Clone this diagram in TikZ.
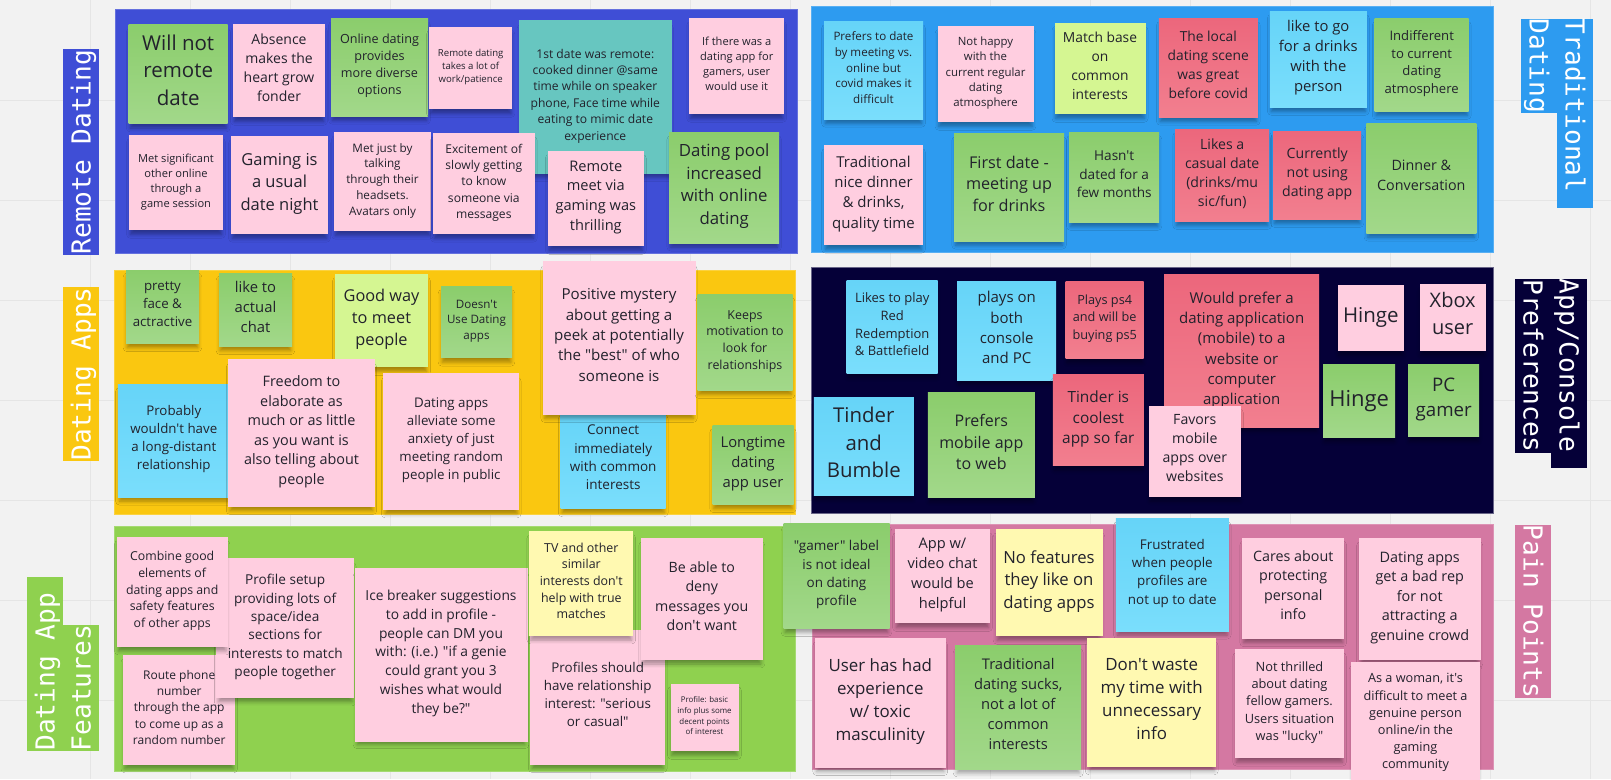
\documentclass[tikz,border=0pt]{standalone}
\usepackage{fontspec}
\setmainfont{Open Sans}[Ligatures=TeXOff]
\newfontfamily\labfont{DejaVu Sans Mono}
\usetikzlibrary{shadows.blur}
\newcommand\nfs[2]{\fontsize{#1pt}{#2pt}\selectfont}
\definecolor{bgc}{RGB}{242,242,242}
\definecolor{gridc}{RGB}{229,229,229}
\definecolor{ctext}{RGB}{34,34,44}
\definecolor{cpink}{RGB}{255,206,224}
\definecolor{cgreenT}{RGB}{139,205,108}
\definecolor{cgreenB}{RGB}{162,216,138}
\definecolor{clblueT}{RGB}{102,212,248}
\definecolor{clblueB}{RGB}{122,222,252}
\definecolor{clime}{RGB}{213,246,146}
\definecolor{cyellow}{RGB}{255,249,177}
\definecolor{credT}{RGB}{236,103,124}
\definecolor{credB}{RGB}{242,127,143}
\definecolor{cteal}{RGB}{103,198,192}
\definecolor{pRemote}{RGB}{63,78,214}
\definecolor{pTrad}{RGB}{45,155,240}
\definecolor{pApps}{RGB}{250,199,16}
\definecolor{pConsole}{RGB}{5,0,56}
\definecolor{pFeat}{RGB}{143,209,79}
\definecolor{pPain}{RGB}{212,120,162}
\tikzset{
  gridline/.style={draw=gridc, line width=1pt},
  panel/.style={line width=1pt},
  sn/.style={inner sep=0pt, align=center, text=ctext,
    execute at begin node={\rule{0pt}{0.9em}},
    execute at end node={\rule[-0.4em]{0pt}{0pt}},
    blur shadow={shadow xshift=0pt, shadow yshift=-6pt, shadow blur radius=4pt, shadow opacity=34, shadow scale=0.97}},
  sz/.style 2 args={minimum width=#1pt, minimum height=#2pt},
  snp/.style={sn, fill=cpink},
  sng/.style={sn, top color=cgreenT, bottom color=cgreenB},
  snb/.style={sn, top color=clblueT, bottom color=clblueB},
  snl/.style={sn, fill=clime},
  sny/.style={sn, fill=cyellow},
  snr/.style={sn, top color=credT, bottom color=credB},
  snt/.style={sn, fill=cteal},
  lab/.style={inner sep=0pt, text=white, font=\labfont\fontsize{26.2pt}{30pt}\selectfont,
    minimum height=36pt, text height=19pt, text depth=0pt},
}
\begin{document}
\begin{tikzpicture}[x=1pt, y=-1pt]
\useasboundingbox (0,0) rectangle (1611,779);
\fill[bgc] (0,0) rectangle (1611,779);
\foreach \gx in {90.5,190.5,...,1590.5} \draw[gridline] (\gx,0) -- (\gx,779);
\foreach \gy in {100,200,...,700} \draw[gridline] (0,\gy) -- (1611,\gy);

% panels
\filldraw[panel, fill=pRemote, draw=pRemote!80!white] (115,9) rectangle (797,253);
\filldraw[panel, fill=pTrad, draw=pTrad!80!white] (811,6) rectangle (1493,252);
\filldraw[panel, fill=pApps, draw=pApps!80!white] (114,270) rectangle (795,514);
\filldraw[panel, fill=pConsole, draw=pConsole!60!white] (811,267) rectangle (1493,513);
\filldraw[panel, fill=pFeat, draw=pFeat!80!white] (114,526) rectangle (795,771);
\filldraw[panel, fill=pPain, draw=pPain!80!white] (812,524) rectangle (1493,769);

% labels
\node[lab, fill=pRemote, rotate=90] (lRemote) at (81,152) {Remote Dating};
\node[lab, fill=pApps, rotate=90] (lApps) at (81,374) {Dating Apps};
\node[lab, fill=pFeat, rotate=90] (lFeat1) at (45,664) {Dating App\hphantom{x}};
\node[lab, fill=pFeat, rotate=90] (lFeat2) at (81,688) {Features};
\node[lab, fill=pTrad, rotate=-90] (lTrad1) at (1575,113.5) {Traditional\hphantom{x}};
\node[lab, fill=pTrad, rotate=-90] (lTrad2) at (1539,66) {Dating};
\node[lab, fill=pConsole, rotate=-90] (lCon1) at (1569,373.5) {App/Console\hphantom{x}};
\node[lab, fill=pConsole, rotate=-90] (lCon2) at (1533,366) {Preferences};
\node[lab, fill=pPain, rotate=-90] (lPain) at (1533,611.5) {Pain Points};

% Remote Dating
\node[sng, sz={99}{99}, font=\nfs{20.5}{27.7}] (rd1) at (178.2,74.2) {Will not\\remote\\date};
\node[snp, sz={92}{93}, font=\nfs{14}{19}] (rd2) at (279,70.5) {Absence\\makes the\\heart grow\\fonder};
\node[sng, sz={97}{98}, font=\nfs{12.6}{17}] (rd3) at (379.5,67) {Online dating\\provides\\more diverse\\options};
\node[snp, sz={83}{82}, font=\nfs{9.6}{13}] (rd4) at (470.7,68) {Remote dating\\takes a lot of\\work/patience};
\node[snt, sz={153}{154}, font=\nfs{12.1}{16.4}] (rd5) at (595.3,97) {1st date was remote:\\cooked dinner @same\\time while on speaker\\phone, Face time while\\eating to mimic date\\experience};
\node[snp, sz={95}{96}, font=\nfs{11.1}{15}] (rd6) at (736.7,66) {If there was a\\dating app for\\gamers, user\\would use it};
\node[snp, sz={94}{95}, font=\nfs{11.1}{15}] (rd7) at (176,182.5) {Met significant\\other online\\through a\\game session};
\node[snp, sz={97}{98}, font=\nfs{16.5}{22.3}] (rd8) at (279.5,185) {Gaming is\\a usual\\date night};
\node[snp, sz={97}{99}, font=\nfs{11.7}{15.8}] (rd9) at (382.5,181.5) {Met just by\\talking\\through their\\headsets.\\Avatars only};
\node[snp, sz={102}{101}, font=\nfs{12.1}{16.3}] (rd10) at (483.8,183.5) {Excitement of\\slowly getting\\to know\\someone via\\messages};
\node[snp, sz={96}{95}, font=\nfs{14.6}{19.7}] (rd11) at (595.8,198.5) {Remote\\meet via\\gaming was\\thrilling};
\node[sng, sz={110}{111}, font=\nfs{16.8}{22.7}] (rd12) at (724.2,187.5) {Dating pool\\increased\\with online\\dating};

% Traditional Dating
\node[snb, sz={99}{98}, font=\nfs{11.6}{15.7}] (td1) at (873.5,70) {Prefers to date\\by meeting vs.\\online but\\covid makes it\\difficult};
\node[snp, sz={96}{96}, font=\nfs{11.4}{15.4}] (td2) at (985.5,74) {Not happy\\with the\\current regular\\dating\\atmosphere};
\node[snl, sz={91}{91}, font=\nfs{13.8}{18.7}] (td3) at (1100,68.5) {Match base\\on\\common\\interests};
\node[snr, sz={99}{99}, font=\nfs{13.8}{18.7}] (td4) at (1208.3,67.5) {The local\\dating scene\\was great\\before covid};
\node[snb, sz={97}{96}, font=\nfs{14.8}{20}] (td5) at (1318.3,59) {like to go\\for a drinks\\with the\\person};
\node[sng, sz={94}{93}, font=\nfs{13.1}{17.7}] (td6) at (1421.7,64.5) {Indifferent\\to current\\dating\\atmosphere};
\node[snp, sz={99}{100}, font=\nfs{15}{20.2}] (td7) at (873.5,195) {Traditional\\nice dinner\\\& drinks,\\quality time};
\node[sng, sz={110}{108}, font=\nfs{16.2}{21.8}] (td8) at (1009,187) {First date -\\meeting up\\for drinks};
\node[sng, sz={90}{90}, font=\nfs{13.6}{18.3}] (td9) at (1114.2,177) {Hasn't\\dated for a\\few months};
\node[snr, sz={94}{92}, font=\nfs{14.1}{19}] (td10) at (1222.2,175) {Likes a\\casual date\\(drinks/mu\\sic/fun)};
\node[snr, sz={88}{88}, font=\nfs{14.1}{19}] (td11) at (1317.2,175) {Currently\\not using\\dating app};
\node[sng, sz={110}{110}, font=\nfs{14.3}{19.3}] (td12) at (1421.3,178) {Dinner \&\\Conversation};

% Dating Apps
\node[sng, sz={73}{73}, font=\nfs{13.3}{18}] (da1) at (162.5,306.5) {pretty\\face \&\\actractive};
\node[sng, sz={73}{73}, font=\nfs{14.8}{20}] (da2) at (255.5,309.5) {like to\\actual\\chat};
\node[snl, sz={93}{93}, font=\nfs{16.3}{22}] (da3) at (381.5,320.5) {Good way\\to meet\\people};
\node[sng, sz={71}{71}, font=\nfs{11.6}{15.7}] (da4) at (476.5,322) {Doesn't\\Use Dating\\apps};
\node[snb, sz={105}{97}, font=\nfs{13.5}{18.2}] (da10) at (613.2,460) {Connect\\immediately\\with common\\interests};
\node[snp, sz={153}{154}, font=\nfs{15.1}{20.4}] (da5) at (619,338) {Positive mystery\\about getting a\\peek at potentially\\the "best" of who\\someone is};
\node[sng, sz={95}{96}, font=\nfs{12.4}{16.7}] (da6) at (745,342.2) {Keeps\\motivation to\\look for\\relationships};
\node[snb, sz={112}{113}, font=\nfs{13.3}{18}] (da7) at (173.8,440.5) {Probably\\wouldn't have\\a long-distant\\relationship};
\node[snp, sz={147}{148}, font=\nfs{14.4}{19.5}] (da8) at (301.5,433) {Freedom to\\elaborate as\\much or as little\\as you want is\\also telling about\\people};
\node[snp, sz={136}{137}, font=\nfs{13.3}{18}] (da9) at (451.2,441.7) {Dating apps\\alleviate some\\anxiety of just\\meeting random\\people in public};
\node[sng, sz={81}{79}, font=\nfs{14.8}{20}] (da11) at (753,464.7) {Longtime\\dating\\app user};

% App/Console Preferences
\node[snb, sz={91}{93}, font=\nfs{13}{17.6}] (ac1) at (892.2,327) {Likes to play\\Red\\Redemption\\\& Battlefield};
\node[snb, sz={99}{99}, font=\nfs{15}{20.3}] (ac2) at (1006.7,330.5) {plays on\\both\\console\\and PC};
\node[snr, sz={78}{77}, font=\nfs{12.7}{17.2}] (ac3) at (1104.7,319.7) {Plays ps4\\and will be\\buying ps5};
\node[snr, sz={155}{153}, font=\nfs{15}{20.2}] (ac4) at (1241.7,351.3) {Would prefer a\\dating application\\(mobile) to a\\website or\\computer\\application};
\node[snb, sz={100}{98}, font=\nfs{20.4}{27.5}] (ac5) at (863.8,446.5) {Tinder\\and\\Bumble};
\node[sng, sz={107}{105}, font=\nfs{16}{21.7}] (ac6) at (981.3,445.2) {Prefers\\mobile app\\to web};
\node[snr, sz={91}{91}, font=\nfs{15.4}{20.8}] (ac7) at (1098.3,420.3) {Tinder is\\coolest\\app so far};
\node[snp, sz={92}{91}, font=\nfs{14.1}{19}] (ac8) at (1194.8,451.2) {Favors\\mobile\\apps over\\websites};
\node[snp, sz={66}{66}, font=\nfs{20.5}{27}] (ac9) at (1370.8,317.5) {Hinge};
\node[snp, sz={66}{67}, font=\nfs{20}{27}] (ac10) at (1452.7,317.3) {Xbox\\user};
\node[sng, sz={72}{73}, font=\nfs{22}{29}] (ac11) at (1359.2,400.7) {Hinge};
\node[sng, sz={71}{72}, font=\nfs{18.7}{25.3}] (ac12) at (1443.7,400.8) {PC\\gamer};

% Dating App Features
\node[snp, sz={112}{110}, font=\nfs{12}{16.25}] (f2) at (179.2,709.8) {Route phone\\number\\through the app\\to come up as a\\random number};
\node[snp, sz={138}{140}, font=\nfs{13.6}{18.4}] (f3) at (285.2,628.2) {Profile setup\\providing lots of\\space/idea\\sections for\\interests to match\\people together};
\node[snp, sz={111}{110}, font=\nfs{12.3}{16.6}] (f1) at (172.2,591.8) {Combine good\\elements of\\dating apps and\\safety features\\of other apps};
\node[snp, sz={173}{174}, font=\nfs{13.8}{18.7}] (f4) at (441,654.5) {Ice breaker suggestions\\to add in profile -\\people can DM you\\with: (i.e.) "if a genie\\could grant you 3\\wishes what would\\they be?"};
\node[snp, sz={135}{135}, font=\nfs{13.4}{18.1}] (f7) at (597.7,697.3) {Profiles should\\have relationship\\interest: "serious\\or casual"};
\node[sny, sz={104}{105}, font=\nfs{12.4}{16.7}] (f5) at (581.3,583.3) {TV and other\\similar\\interests don't\\help with true\\matches};
\node[snp, sz={122}{122}, font=\nfs{14.2}{19.2}] (f6) at (701.8,599) {Be able to\\deny\\messages you\\don't want};
\node[snp, sz={68}{67}, font=\nfs{7.9}{10.7}] (f8) at (704.5,717.2) {Profile: basic\\info plus some\\decent points\\of interest};

% Pain Points
\node[sng, sz={106}{105}, font=\nfs{13.5}{18.2}] (p1) at (836.5,575.7) {"gamer" label\\is not ideal\\on dating\\profile};
\node[snp, sz={95}{94}, font=\nfs{14.6}{19.7}] (p2) at (942.5,576.2) {App w/\\video chat\\would be\\helpful};
\node[sny, sz={107}{107}, font=\nfs{16.7}{22.5}] (p3) at (1049,582.7) {No features\\they like on\\dating apps};
\node[snb, sz={113}{113}, font=\nfs{13.4}{18.1}] (p4) at (1172.3,574.5) {Frustrated\\when people\\profiles are\\not up to date};
\node[snp, sz={131}{130}, font=\nfs{16.9}{22.8}] (p5) at (880.3,702.8) {User has had\\experience\\w/ toxic\\masculinity};
\node[sng, sz={126}{124}, font=\nfs{14.7}{19.9}] (p6) at (1018.2,707) {Traditional\\dating sucks,\\not a lot of\\common\\interests};
\node[sny, sz={129}{129}, font=\nfs{16.9}{22.8}] (p7) at (1151.7,702.5) {Don't waste\\my time with\\unnecessary\\info};
\node[snp, sz={102}{101}, font=\nfs{14.3}{19.3}] (p8) at (1293.2,588) {Cares about\\protecting\\personal\\info};
\node[snp, sz={122}{122}, font=\nfs{14.4}{19.4}] (p9) at (1419.7,598.8) {Dating apps\\get a bad rep\\for not\\attracting a\\genuine crowd};
\node[snp, sz={109}{109}, font=\nfs{12.8}{17.3}] (p10) at (1289.5,703.5) {Not thrilled\\about dating\\fellow gamers.\\Users situation\\was "lucky"};
\node[snp, sz={129}{124}, font=\nfs{12.7}{17.2}] (p11) at (1415.5,723.8) {As a woman, it's\\difficult to meet a\\genuine person\\online/in the\\gaming\\community};
\end{tikzpicture}
\end{document}
